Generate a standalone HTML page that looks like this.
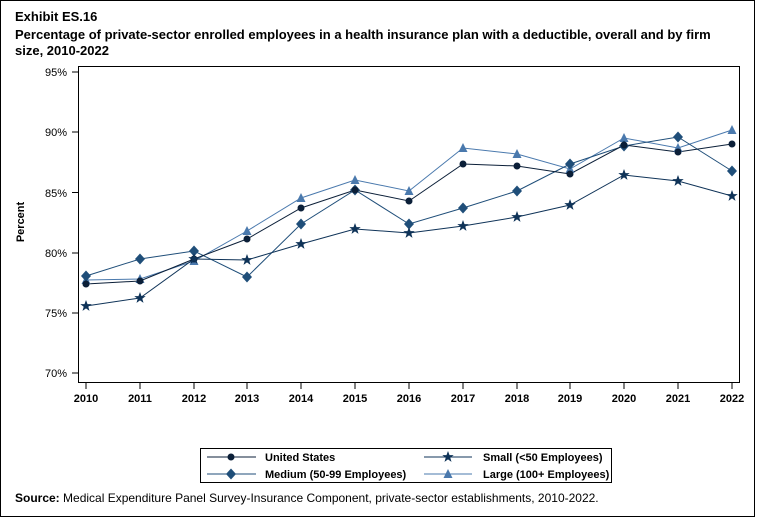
<!DOCTYPE html>
<html><head><meta charset="utf-8"><style>
body{margin:0;background:#fff;}
svg{display:block;font-family:"Liberation Sans",Arial,sans-serif;}
</style></head><body>
<svg width="758" height="518" viewBox="0 0 758 518" xmlns="http://www.w3.org/2000/svg">
<defs>
<circle id="mc" r="3.5" fill="#0b1f38"/>
<path id="md" d="M0 -5.5 L5 0 L0 5.5 L-5 0Z" fill="#1f4e79"/>
<path id="mt" d="M0 -5 L4.5 4 L-4.5 4Z" fill="#4a79ad"/>
<path id="ms" d="M0 -6 L1.5 -1.9 L5.7 -1.9 L2.3 0.7 L3.5 4.9 L0 2.4 L-3.5 4.9 L-2.3 0.7 L-5.7 -1.9 L-1.5 -1.9Z" fill="#0f3358"/>
</defs>
<rect x="0.5" y="0.5" width="754" height="516" fill="#fff" stroke="#000"/>
<text x="15" y="21" font-size="13" font-weight="bold">Exhibit ES.16</text>
<text x="15" y="39" font-size="13" font-weight="bold">Percentage of private-sector enrolled employees in a health insurance plan with a deductible, overall and by firm</text>
<text x="15" y="55" font-size="13" font-weight="bold">size, 2010-2022</text>
<rect x="78.5" y="66.5" width="661" height="316" fill="none" stroke="#000"/>
<g font-size="11" text-anchor="end" fill="#000">
<text x="67" y="76">95%</text><text x="67" y="136">90%</text><text x="67" y="197">85%</text>
<text x="67" y="257">80%</text><text x="67" y="317">75%</text><text x="67" y="377">70%</text>
</g>
<g stroke="#000"><line x1="72" x2="78" y1="72" y2="72"/><line x1="72" x2="78" y1="132" y2="132"/><line x1="72" x2="78" y1="192.5" y2="192.5"/><line x1="72" x2="78" y1="253" y2="253"/><line x1="72" x2="78" y1="313" y2="313"/><line x1="72" x2="78" y1="373" y2="373"/></g>
<text transform="translate(24,222) rotate(-90)" font-size="11" font-weight="bold" text-anchor="middle">Percent</text>
<g stroke="#000">
<line x1="86" x2="86" y1="383" y2="389"/><line x1="140" x2="140" y1="383" y2="389"/><line x1="194" x2="194" y1="383" y2="389"/><line x1="247" x2="247" y1="383" y2="389"/><line x1="301" x2="301" y1="383" y2="389"/><line x1="355" x2="355" y1="383" y2="389"/><line x1="409" x2="409" y1="383" y2="389"/><line x1="463" x2="463" y1="383" y2="389"/><line x1="517" x2="517" y1="383" y2="389"/><line x1="570" x2="570" y1="383" y2="389"/><line x1="624" x2="624" y1="383" y2="389"/><line x1="678" x2="678" y1="383" y2="389"/><line x1="732" x2="732" y1="383" y2="389"/>
</g>
<g font-size="11" font-weight="bold" text-anchor="middle">
<text x="86" y="402">2010</text><text x="140" y="402">2011</text><text x="194" y="402">2012</text><text x="247" y="402">2013</text><text x="301" y="402">2014</text><text x="355" y="402">2015</text><text x="409" y="402">2016</text><text x="463" y="402">2017</text><text x="517" y="402">2018</text><text x="570" y="402">2019</text><text x="624" y="402">2020</text><text x="678" y="402">2021</text><text x="732" y="402">2022</text>
</g>
<g fill="none" stroke-width="1">
<polyline stroke="#4a79ad" points="86,280 140,279 194,261 247,231 301,198 355,180 409,191 463,148 517,154 570,169 624,138 678,148 732,130"/>
<polyline stroke="#1f4e79" points="86,276 140,259 194,251 247,277 301,224 355,190 409,224 463,208 517,191 570,164 624,146 678,137 732,171"/>
<polyline stroke="#0b1f38" points="86,284 140,281 194,259 247,239 301,208 355,190 409,201 463,164 517,166 570,174 624,145 678,152 732,144"/>
<polyline stroke="#0f3358" points="86,306 140,298 194,259 247,260 301,244 355,229 409,233 463,226 517,217 570,205 624,175 678,181 732,196"/>
</g>
<use href="#mt" x="86" y="280"/><use href="#mt" x="140" y="279"/><use href="#mt" x="194" y="261"/><use href="#mt" x="247" y="231"/><use href="#mt" x="301" y="198"/><use href="#mt" x="355" y="180"/><use href="#mt" x="409" y="191"/><use href="#mt" x="463" y="148"/><use href="#mt" x="517" y="154"/><use href="#mt" x="570" y="169"/><use href="#mt" x="624" y="138"/><use href="#mt" x="678" y="148"/><use href="#mt" x="732" y="130"/>
<use href="#md" x="86" y="276"/><use href="#md" x="140" y="259"/><use href="#md" x="194" y="251"/><use href="#md" x="247" y="277"/><use href="#md" x="301" y="224"/><use href="#md" x="355" y="190"/><use href="#md" x="409" y="224"/><use href="#md" x="463" y="208"/><use href="#md" x="517" y="191"/><use href="#md" x="570" y="164"/><use href="#md" x="624" y="146"/><use href="#md" x="678" y="137"/><use href="#md" x="732" y="171"/>
<use href="#mc" x="86" y="284"/><use href="#mc" x="140" y="281"/><use href="#mc" x="194" y="259"/><use href="#mc" x="247" y="239"/><use href="#mc" x="301" y="208"/><use href="#mc" x="355" y="190"/><use href="#mc" x="409" y="201"/><use href="#mc" x="463" y="164"/><use href="#mc" x="517" y="166"/><use href="#mc" x="570" y="174"/><use href="#mc" x="624" y="145"/><use href="#mc" x="678" y="152"/><use href="#mc" x="732" y="144"/>
<use href="#ms" x="86" y="306"/><use href="#ms" x="140" y="298"/><use href="#ms" x="194" y="259"/><use href="#ms" x="247" y="260"/><use href="#ms" x="301" y="244"/><use href="#ms" x="355" y="229"/><use href="#ms" x="409" y="233"/><use href="#ms" x="463" y="226"/><use href="#ms" x="517" y="217"/><use href="#ms" x="570" y="205"/><use href="#ms" x="624" y="175"/><use href="#ms" x="678" y="181"/><use href="#ms" x="732" y="196"/>
<rect x="200.5" y="448.5" width="411" height="34" fill="#fff" stroke="#000"/>
<g font-size="11" font-weight="bold">
<line x1="207" x2="256" y1="457" y2="457" stroke="#0b1f38"/><use href="#mc" x="231" y="457"/><text x="265" y="461">United States</text>
<line x1="207" x2="256" y1="474" y2="474" stroke="#1f4e79"/><use href="#md" x="231" y="474"/><text x="265" y="478">Medium (50-99 Employees)</text>
<line x1="424" x2="472" y1="457" y2="457" stroke="#0f3358"/><use href="#ms" x="448" y="457"/><text x="483" y="461">Small (&lt;50 Employees)</text>
<line x1="424" x2="472" y1="474" y2="474" stroke="#4a79ad"/><use href="#mt" x="448" y="474"/><text x="483" y="478">Large (100+ Employees)</text>
</g>
<text x="15" y="502" font-size="12"><tspan font-weight="bold">Source:</tspan> Medical Expenditure Panel Survey-Insurance Component, private-sector establishments, 2010-2022.</text>
</svg>
</body></html>
